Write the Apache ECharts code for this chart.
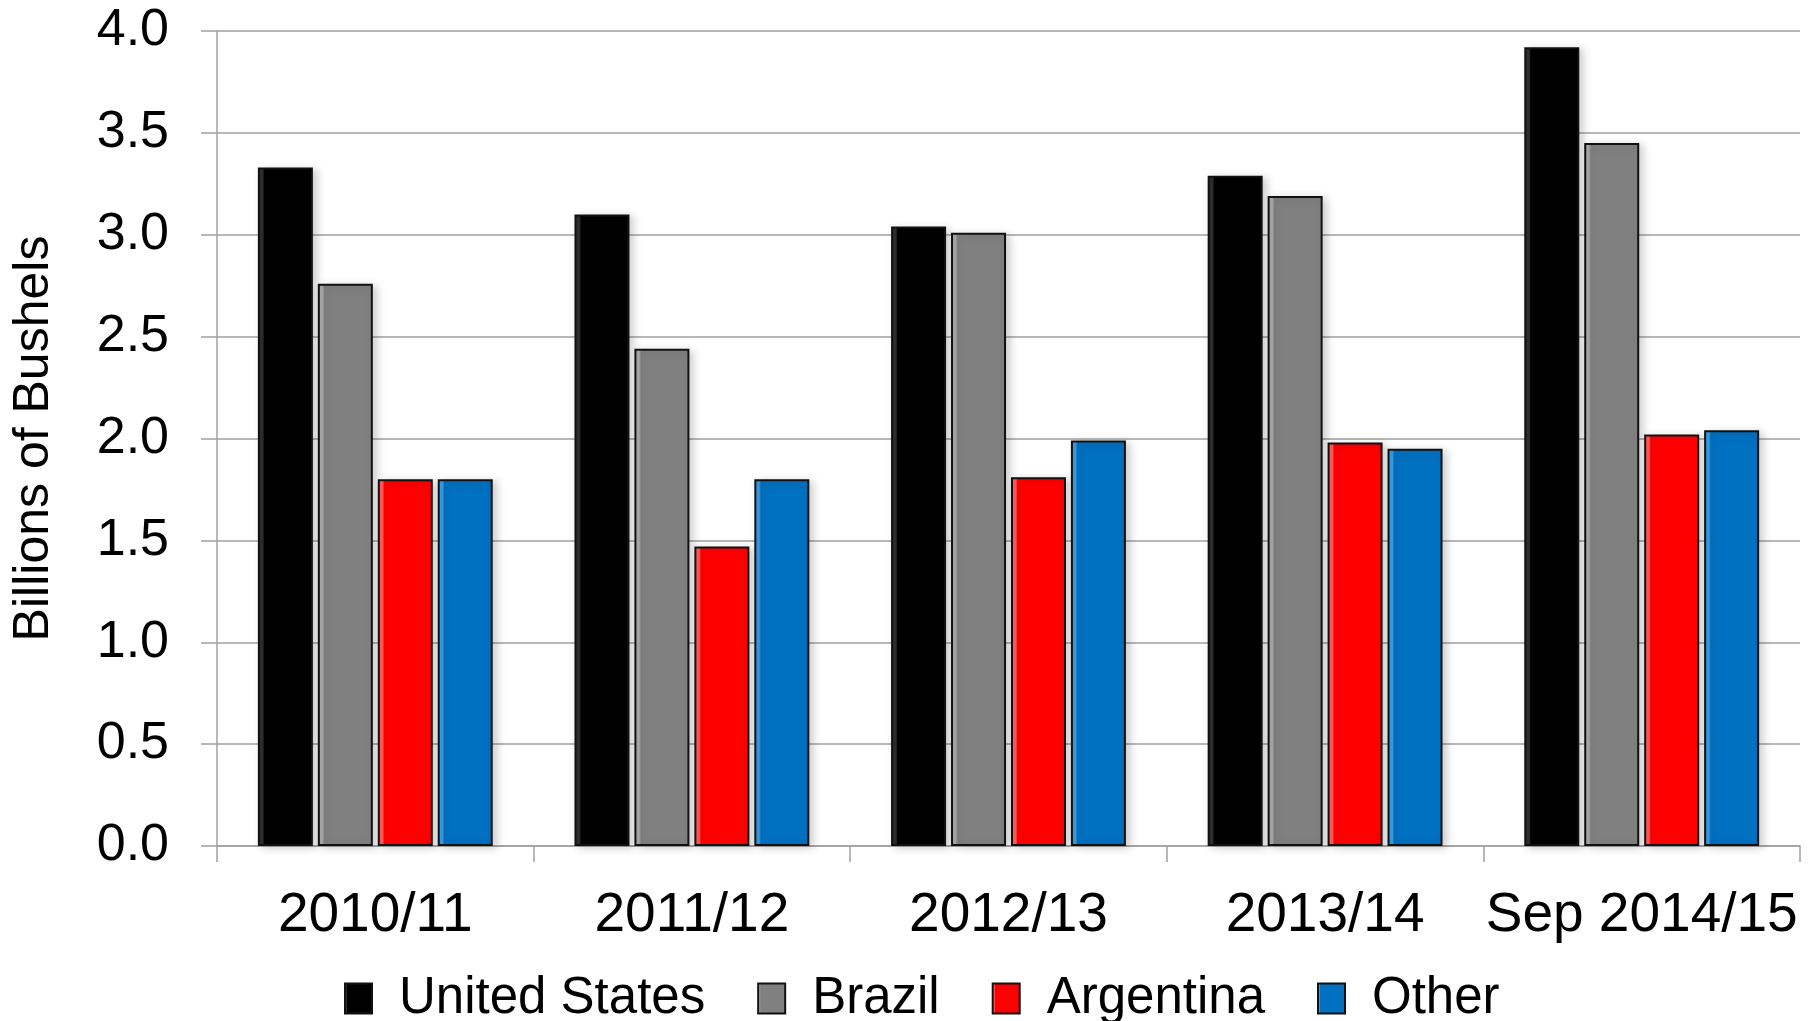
<!DOCTYPE html>
<html>
<head>
<meta charset="utf-8">
<script src="https://cdn.jsdelivr.net/npm/echarts@6/dist/echarts.min.js"></script>
<style>
  html, body { margin: 0; padding: 0; background: #ffffff; }
  #chart { width: 1816px; height: 1021px; }
</style>
</head>
<body>
<div id="chart"></div>
<script>
// Marketing years on the category axis
const years = ['2010/11', '2011/12', '2012/13', '2013/14', 'Sep 2014/15'];

// Exports, billions of bushels
const unitedStates = [3.33, 3.10, 3.04, 3.29, 3.92];
const brazil       = [2.76, 2.44, 3.01, 3.19, 3.45];
const argentina    = [1.80, 1.47, 1.81, 1.98, 2.02];
const other        = [1.80, 1.80, 1.99, 1.95, 2.04];

// Value-axis ticks
const yMin = 0, yMax = 4, yStep = 0.5;

const FONT = "'Liberation Sans', Arial, sans-serif";

// Flat fill with a thin lighter strip down the left edge
function barFill(main, strip) {
  return new echarts.graphic.LinearGradient(0, 0, 1, 0, [
    { offset: 0, color: strip },
    { offset: 0.09, color: strip },
    { offset: 0.12, color: main },
    { offset: 1, color: main }
  ]);
}

function barSeries(name, data, main, strip) {
  return {
    name: name,
    type: 'bar',
    data: data,
    barWidth: 55,
    barGap: '9%',
    itemStyle: {
      color: barFill(main, strip),
      borderColor: '#111111',
      borderWidth: 2,
      shadowColor: 'rgba(0,0,0,0.18)',
      shadowBlur: 8,
      shadowOffsetX: 4,
      shadowOffsetY: 2
    },
    emphasis: { disabled: true }
  };
}

const chart = echarts.init(document.getElementById('chart'), null, { renderer: 'canvas' });

chart.setOption({
  animation: false,
  backgroundColor: '#ffffff',
  textStyle: { fontFamily: FONT },
  grid: {
    left: 217, right: 16, top: 31, bottom: 175,
    containLabel: false,
    outerBoundsMode: 'none'
  },
  legend: {
    top: 968,
    left: 339,
    itemWidth: 27,
    itemHeight: 30,
    itemGap: 52,
    icon: 'rect',
    textStyle: { fontFamily: FONT, fontSize: 51, color: '#000000', padding: [0, 0, 0, 22] },
    data: ['United States', 'Brazil', 'Argentina', 'Other']
  },
  xAxis: {
    type: 'category',
    data: years,
    boundaryGap: true,
    axisLine: { show: true, lineStyle: { color: '#a0a0a0', width: 1.5 } },
    axisTick: { show: true, interval: 0, length: 16, lineStyle: { color: '#a0a0a0', width: 1.5 } },
    axisLabel: { interval: 0, color: '#000000', fontFamily: FONT, fontSize: 55, margin: 42 }
  },
  yAxis: {
    type: 'value',
    min: yMin,
    max: yMax,
    interval: yStep,
    name: 'Billions of Bushels',
    nameLocation: 'middle',
    nameRotate: 90,
    nameGap: 158,
    nameTextStyle: { color: '#000000', fontFamily: FONT, fontSize: 50 },
    axisLine: { show: true, lineStyle: { color: '#a0a0a0', width: 1.5 } },
    axisTick: { show: true, length: 16, lineStyle: { color: '#a0a0a0', width: 1.5 } },
    axisLabel: {
      color: '#000000', fontFamily: FONT, fontSize: 52, margin: 48,
      formatter: v => v.toFixed(1)
    },
    splitLine: { show: true, lineStyle: { color: '#a0a0a0', width: 1.5 } }
  },
  series: [
    barSeries('United States', unitedStates, '#000000', '#2e2e2e'),
    barSeries('Brazil', brazil, '#808080', '#a8a8a8'),
    barSeries('Argentina', argentina, '#ff0000', '#ff5a5a'),
    barSeries('Other', other, '#0070c0', '#3a9be0')
  ]
});
</script>
</body>
</html>
